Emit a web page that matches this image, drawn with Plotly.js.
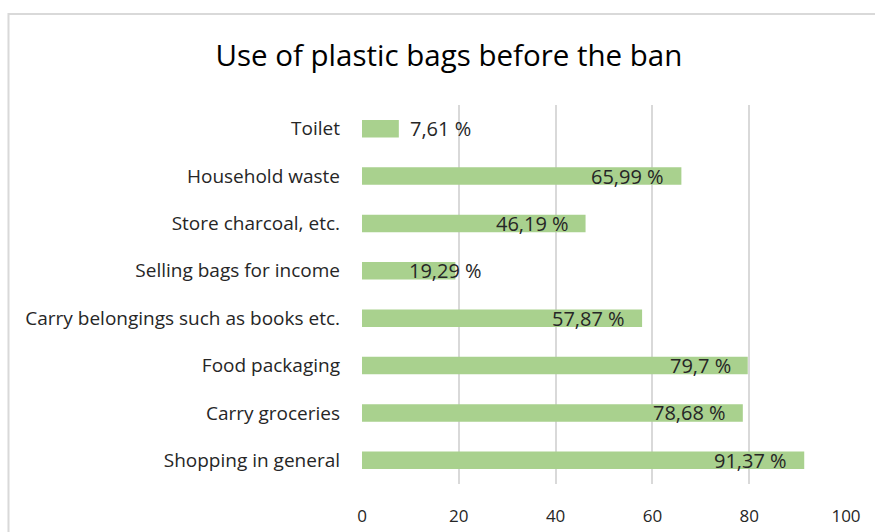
<!DOCTYPE html>
<html><head><meta charset="utf-8">
<script src="https://cdn.plot.ly/plotly-3.0.1.min.js"></script>
<style>body{margin:0;background:#fff}#chart{width:875px;height:532px}</style>
</head><body><div id="chart"></div>
<script>
const categories = ["Shopping in general","Carry groceries","Food packaging","Carry belongings such as books etc.","Selling bags for income","Store charcoal, etc.","Household waste","Toilet"];
const values = [91.37, 78.68, 79.7, 57.87, 19.29, 46.19, 65.99, 7.61];
const valueLabels = ["91,37 %","78,68 %","79,7 %","57,87 %","19,29 %","46,19 %","65,99 %","7,61 %"];
const tickVals = [0,20,40,60,80,100];

// label placement style (Excel "inside end" quirks)
const labelAnchor = ["right","right","right","right","left","right","right","left"];
const labelShift = [-15,-15,-15,-15,-48,-15,-15,9];

const font = "'Open Sans', sans-serif";
const annotations = categories.map((c,i)=>({
  x: values[i], y: c, xref:'x', yref:'y', text: valueLabels[i], showarrow:false,
  xanchor: labelAnchor[i], xshift: labelShift[i], font:{family:font,size:20,color:'#262626'}
}));

Plotly.newPlot('chart',[{
  type:'bar', orientation:'h', y:categories, x:values,
  marker:{color:'#a9d18e'}, hoverinfo:'skip'
}],{
  width:875,height:532,
  margin:{l:362,r:29,t:105,b:48},
  bargap:0.63,
  title:{text:'Use of plastic bags before the ban',font:{family:font,size:29.5,color:'#000'},x:0.513,xanchor:'center',y:0.895,yanchor:'middle'},
  xaxis:{range:[0,100],tickvals:tickVals,showgrid:true,gridcolor:'#d9d9d9',gridwidth:2,zeroline:false,showline:false,
    tickfont:{family:font,size:17,color:'#262626'},ticks:'',ticklabelstandoff:20,fixedrange:true},
  yaxis:{categoryorder:'array',categoryarray:categories,showgrid:false,zeroline:false,showline:false,ticks:'',
    tickfont:{family:font,size:19,color:'#262626'},ticklabelstandoff:21,fixedrange:true},
  annotations:annotations,
  shapes:[{type:'rect',xref:'paper',yref:'paper',x0:-0.7304,x1:1.3,y0:-0.4,y1:1.2401,line:{color:'#d9d9d9',width:2},layer:'below'}],
  showlegend:false,plot_bgcolor:'#fff',paper_bgcolor:'#fff'
},{staticPlot:true});
</script></body></html>
